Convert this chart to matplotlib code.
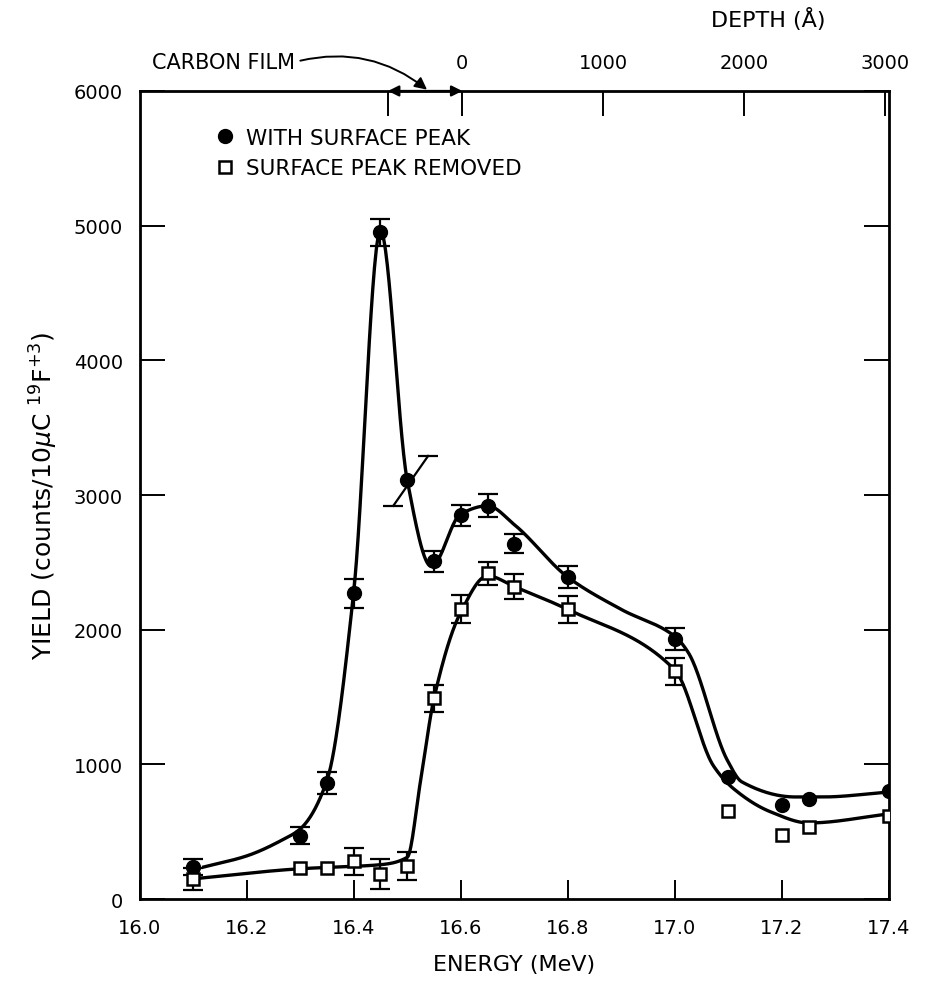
import numpy as np
import matplotlib
matplotlib.use('Agg')
import matplotlib.pyplot as plt

# measured points (energy in MeV, yield in counts / 10 uC)
energy = [16.1, 16.3, 16.35, 16.4, 16.45, 16.5, 16.55, 16.6, 16.65, 16.7, 16.8, 17.0, 17.1, 17.2, 17.25, 17.4]
with_peak = [240, 470, 860, 2270, 4950, 3110, 2510, 2850, 2920, 2640, 2390, 1930, 905, 700, 745, 800]
with_peak_err = [60, 62, 82, 107, 100, 0, 78, 77, 85, 71, 82, 82, 0, 0, 0, 0]
removed = [150, 230, 230, 280, 185, 245, 1490, 2150, 2420, 2320, 2150, 1690, 655, 475, 535, 615]
removed_err = [80, 0, 0, 100, 110, 105, 100, 104, 86, 93, 100, 100, 0, 0, 0, 0]

# the 16.5 MeV point has a slanted error bar
slant_lo = (16.474, 2920)
slant_hi = (16.539, 3290)

# hand drawn guide curves (knots)
fit_peak_x = [16.12, 16.2, 16.27, 16.3, 16.35, 16.4, 16.45, 16.5, 16.545, 16.6, 16.65, 16.7, 16.8,
              16.9, 17.0, 17.025, 17.098, 17.125, 17.225, 17.276, 17.4]
fit_peak_y = [238, 320, 446, 520, 880, 2280, 4960, 3110, 2470, 2860, 2920, 2780, 2390,
              2150, 1950, 1830, 1030, 870, 758, 758, 795]
fit_rem_x = [16.1, 16.3, 16.35, 16.45, 16.5, 16.525, 16.55, 16.6, 16.65, 16.7, 16.8, 17.0,
             17.072, 17.11, 17.179, 17.25, 17.4]
fit_rem_y = [150, 225, 235, 255, 310, 880, 1490, 2130, 2400, 2320, 2150, 1700,
             989, 818, 647, 565, 632]

# top axis: depth in Angstrom
depth_ticks = [-528, 0, 1000, 2000, 3000]
depth_labels = ['', '0', '1000', '2000', '3000']
E_SURF = 16.603
MEV_PER_KA = 0.263


def pchip(x, y, xs):
    x = np.asarray(x, float)
    y = np.asarray(y, float)
    h = np.diff(x)
    d = np.diff(y) / h
    m = np.zeros_like(y)
    m[0] = d[0]
    m[-1] = d[-1]
    for k in range(1, len(x) - 1):
        if d[k - 1] * d[k] > 0:
            w1 = 2 * h[k] + h[k - 1]
            w2 = h[k] + 2 * h[k - 1]
            m[k] = (w1 + w2) / (w1 / d[k - 1] + w2 / d[k])
    idx = np.clip(np.searchsorted(x, xs) - 1, 0, len(x) - 2)
    t = (xs - x[idx]) / h[idx]
    h00 = 2 * t**3 - 3 * t**2 + 1
    h10 = t**3 - 2 * t**2 + t
    h01 = -2 * t**3 + 3 * t**2
    h11 = t**3 - t**2
    return h00 * y[idx] + h10 * h[idx] * m[idx] + h01 * y[idx + 1] + h11 * h[idx] * m[idx + 1]


plt.rcParams['font.family'] = ['DejaVu Sans']
fig = plt.figure(figsize=(9.26, 9.87), dpi=100)
ax = fig.add_axes([0.1507, 0.0881, 0.8094, 0.8187])

xs = np.linspace(fit_peak_x[0], fit_peak_x[-1], 800)
ax.plot(xs, pchip(fit_peak_x, fit_peak_y, xs), color='black', lw=2.4, zorder=2)
xs = np.linspace(fit_rem_x[0], fit_rem_x[-1], 800)
ax.plot(xs, pchip(fit_rem_x, fit_rem_y, xs), color='black', lw=2.4, zorder=2)

e = np.array(energy)
wp_err = np.array(with_peak_err, float)
rm_err = np.array(removed_err, float)
wp_err[wp_err == 0] = np.nan
rm_err[rm_err == 0] = np.nan

ax.errorbar(e, with_peak, yerr=wp_err, fmt='none', ecolor='black', elinewidth=1.6,
            capsize=7, capthick=1.6, zorder=3)
ax.errorbar(e, removed, yerr=rm_err, fmt='none', ecolor='black', elinewidth=1.6,
            capsize=7, capthick=1.6, zorder=3)

# slanted error bar
ax.plot([slant_lo[0], slant_hi[0]], [slant_lo[1], slant_hi[1]], color='black', lw=1.6, zorder=3)
ax.plot([slant_lo[0], slant_hi[0]], [slant_lo[1], slant_hi[1]], linestyle='none',
        marker='_', markersize=14, markeredgewidth=1.6, color='black', zorder=3)

ax.plot(e, with_peak, 'o', color='black', markersize=10, zorder=4,
        label='WITH SURFACE PEAK')
ax.plot(e, removed, 's', markerfacecolor='white', markeredgecolor='black',
        markeredgewidth=1.8, markersize=8, zorder=4, label='SURFACE PEAK REMOVED')

ax.set_xlim(16.0, 17.4)
ax.set_ylim(0, 6000)
ax.set_xticks(np.arange(16.0, 17.41, 0.2))
ax.set_xticklabels(['%.1f' % v for v in np.arange(16.0, 17.41, 0.2)])
ax.set_yticks(np.arange(0, 6001, 1000))
ax.tick_params(axis='x', direction='in', length=14, width=1.4, labelsize=14, pad=14)
ax.tick_params(axis='y', direction='in', length=18, width=1.4, labelsize=14, pad=12,
               right=True)
for sp in ax.spines.values():
    sp.set_linewidth(2)

ax.set_xlabel('ENERGY (MeV)', fontsize=16, labelpad=12)
ax.set_ylabel(r'YIELD (counts/10$\mu$C $^{19}$F$^{+3}$)', fontsize=18, labelpad=10)

top = ax.secondary_xaxis('top', functions=(lambda x: (x - E_SURF) / MEV_PER_KA * 1000,
                                            lambda d: E_SURF + d / 1000 * MEV_PER_KA))
top.set_xticks(depth_ticks)
top.set_xticklabels(depth_labels)
top.tick_params(direction='in', length=18, width=1.4, labelsize=14, pad=14)
fig.text(768 / 926, 1 - 20 / 987, 'DEPTH (Å)', fontsize=16, ha='center', va='center')

# carbon film marker
ax.annotate('', xy=(16.464, 6000), xytext=(16.603, 6000),
            arrowprops=dict(arrowstyle='<|-|>', color='black', lw=1.6, mutation_scale=16,
                            shrinkA=0, shrinkB=0),
            annotation_clip=False)
ax.annotate('CARBON FILM', xy=(16.537, 6010), xytext=(16.023, 6215),
            fontsize=15, va='center', ha='left', annotation_clip=False,
            arrowprops=dict(arrowstyle='-|>', color='black', lw=1.4, mutation_scale=18,
                            connectionstyle='arc3,rad=-0.25', shrinkA=2, shrinkB=0,
                            relpos=(1.0, 0.5)))

leg = ax.legend(loc='upper left', bbox_to_anchor=(0.088, 0.968), frameon=False, fontsize=15.5,
                handlelength=0.8, handletextpad=0.6, labelspacing=0.5, borderpad=0)

fig.savefig('out.png', dpi=100)
